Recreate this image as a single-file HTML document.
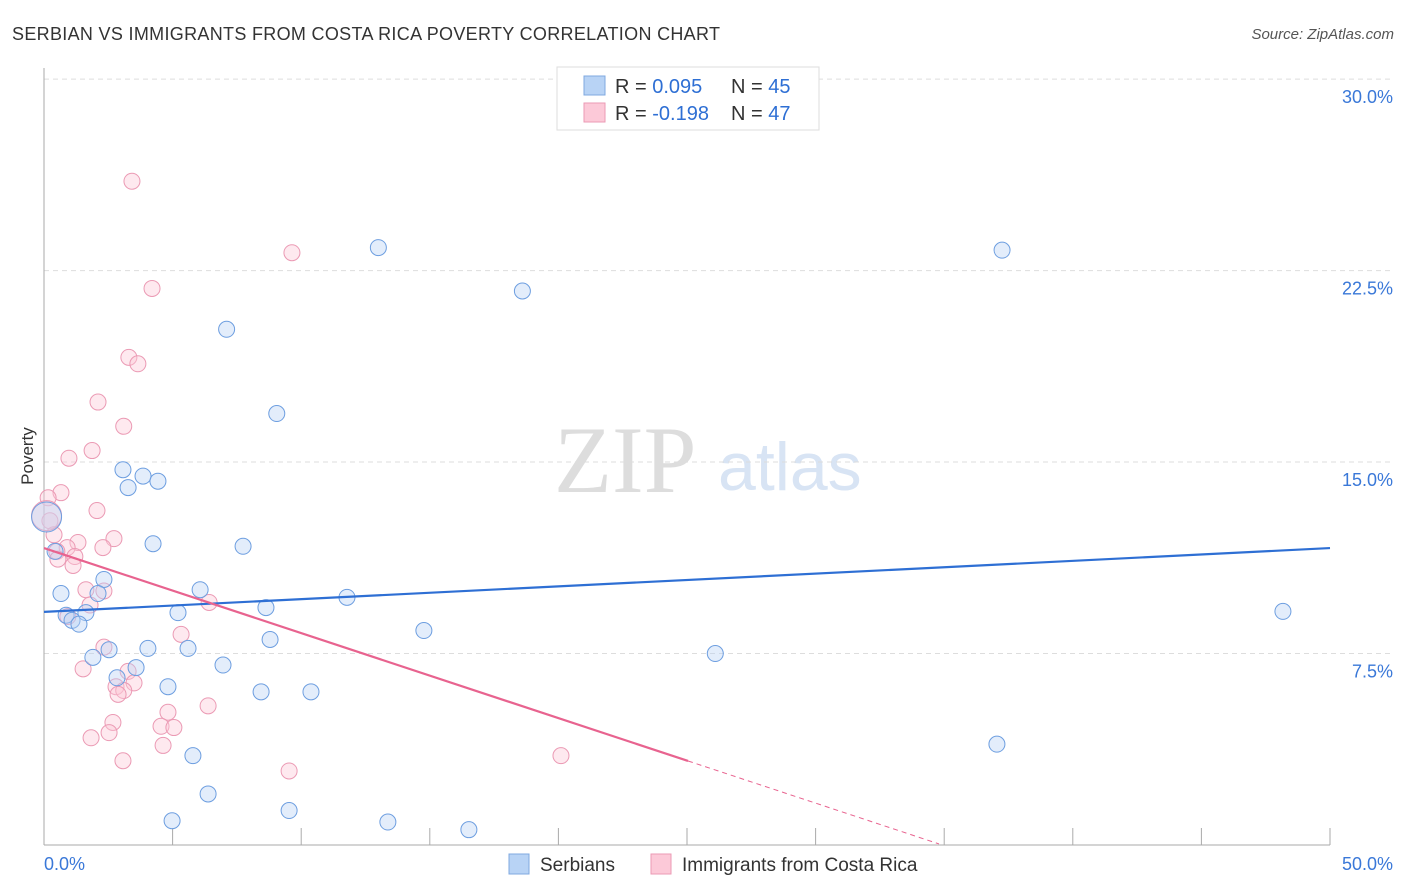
<!DOCTYPE html>
<html><head><meta charset="utf-8"><style>
body{margin:0;background:#fff;font-family:"Liberation Sans",sans-serif;}
svg{display:block}
</style></head><body>
<svg id="c" width="1406" height="892" xmlns="http://www.w3.org/2000/svg">
<text x="12" y="40" font-size="18" fill="#333" textLength="708" lengthAdjust="spacing">SERBIAN VS IMMIGRANTS FROM COSTA RICA POVERTY CORRELATION CHART</text>
<text x="1394" y="39" font-size="15" fill="#555" text-anchor="end" font-style="italic">Source: ZipAtlas.com</text>
<text x="33" y="456" font-size="17" fill="#333" text-anchor="middle" transform="rotate(-90 33 456)">Poverty</text>
<text x="554" y="492" font-size="95" fill="#ddd" font-family="Liberation Serif,serif">ZIP</text>
<text x="718" y="490" font-size="68" fill="#d8e4f4">atlas</text>
<g id="grid"></g><g id="pts"></g><g id="lines"></g>
<g>
<rect x="557" y="67" width="262" height="63" fill="#fff" stroke="#ddd"/>
<rect x="584" y="76" width="21" height="19" fill="#b8d3f5" stroke="#7fa8e0"/>
<rect x="584" y="103" width="21" height="19" fill="#fcc9d8" stroke="#eb9ab4"/>
<text x="615" y="93" font-size="20" fill="#333">R = <tspan fill="#2e6fd4">0.095</tspan></text>
<text x="731" y="93" font-size="20" fill="#333">N = <tspan fill="#2e6fd4">45</tspan></text>
<text x="615" y="120" font-size="20" fill="#333">R = <tspan fill="#2e6fd4">-0.198</tspan></text>
<text x="731" y="120" font-size="20" fill="#333">N = <tspan fill="#2e6fd4">47</tspan></text>
</g>
<g>
<rect x="509" y="854" width="20" height="20" fill="#b8d3f5" stroke="#7fa8e0"/>
<text x="540" y="871" font-size="19" fill="#333">Serbians</text>
<rect x="651" y="854" width="20" height="20" fill="#fcc9d8" stroke="#eb9ab4"/>
<text x="682" y="871" font-size="19" fill="#333">Immigrants from Costa Rica</text>
</g>
<text x="44" y="870" font-size="18" fill="#3a78d8">0.0%</text>
<text x="1393" y="870" font-size="18" fill="#3a78d8" text-anchor="end">50.0%</text>
</svg>
<script>
const yTicks=[7.5,15,22.5,30];
const yTickLabels=["7.5%","15.0%","22.5%","30.0%"];
const xTicks=[0,5,10,15,20,25,30,35,40,45,50];
const blueX=[13.0,37.25,18.6,7.1,9.05,3.07,3.85,3.27,4.43,4.24,7.74,0.43,2.33,0.66,2.1,6.07,11.78,0.86,1.63,5.21,8.63,1.09,1.36,14.77,8.79,2.53,4.04,5.6,1.9,26.1,3.58,6.96,2.84,4.82,8.44,10.38,48.17,5.79,37.05,6.38,9.53,4.98,13.37,16.52,0.1];
const blueY=[23.4,23.3,21.7,20.2,16.9,14.7,14.45,14.0,14.25,11.8,11.7,11.5,10.4,9.85,9.85,10.0,9.7,9.0,9.1,9.1,9.3,8.8,8.65,8.4,8.05,7.65,7.7,7.7,7.35,7.5,6.95,7.05,6.55,6.2,6.0,6.0,9.15,3.5,3.95,2.0,1.35,0.95,0.9,0.6,12.85];
const pinkX=[3.42,9.64,4.2,3.3,3.65,2.1,3.1,1.87,0.97,0.66,0.16,2.06,0.23,0.39,2.72,1.32,0.9,2.29,0.5,1.2,1.13,0.54,1.63,2.33,1.79,6.42,0.93,5.33,2.33,1.52,3.27,3.5,2.8,3.1,2.88,6.38,2.68,4.82,4.55,5.05,2.53,1.83,4.63,3.07,9.53,20.1,0.1];
const pinkY=[26.0,23.2,21.8,19.1,18.85,17.35,16.4,15.45,15.15,13.8,13.6,13.1,12.7,12.15,12.0,11.85,11.65,11.65,11.5,11.3,10.95,11.2,10.0,9.95,9.4,9.5,8.95,8.25,7.75,6.9,6.8,6.35,6.2,6.05,5.9,5.45,4.8,5.2,4.65,4.6,4.4,4.2,3.9,3.3,2.9,3.5,12.9];
const blueLine=[9.13,11.63];
const pinkLine=[11.63,-0.333];
const pinkSolidEnd=25.04, pinkDashEnd=34.8;
const NS="http://www.w3.org/2000/svg";
const X=v=>44+v*25.72, Y=v=>845-v*25.53;
function mk(t,a,p){const e=document.createElementNS(NS,t);for(const k in a)e.setAttribute(k,a[k]);p.appendChild(e);return e;}
const g=document.getElementById('grid');
yTicks.forEach((t,i)=>{
 const l=mk('line',{x1:44,x2:1393,y1:Y(t),y2:Y(t),stroke:'#ddd','stroke-dasharray':'5,4'},g);
 
 
 const tx=mk('text',{x:1393,y:Y(t)+24,'font-size':18,fill:'#3a78d8','text-anchor':'end'},g);
 tx.textContent=yTickLabels[i];
 
 
});
const ax=mk('line',{x1:44,x2:44,y1:68,y2:845,stroke:'#aaa'},g);


const bx=mk('line',{x1:44,x2:1330,y1:845,y2:845,stroke:'#aaa'},g);


xTicks.forEach(t=>{const l=mk('line',{x1:X(t),x2:X(t),y1:828,y2:845,stroke:'#aaa'},g);
 
 });
const p=document.getElementById('pts');
function dots(xs,ys,fill,stroke,name){xs.forEach((x,i)=>{const big=i===xs.length-1;
 const c=mk('circle',{cx:X(x),cy:Y(ys[i]),r:big?15:8,fill:fill,'fill-opacity':0.4,stroke:stroke,'stroke-width':1},p);
 
 });}
dots(pinkX,pinkY,'#fcc9d8','#eb9ab4','costa-rica-point');
dots(blueX,blueY,'#b8d3f5','#6d9ee0','serbian-point');
const L=document.getElementById('lines');
const bl=mk('line',{x1:X(0),y1:Y(blueLine[0]),x2:X(50),y2:Y(blueLine[1]),stroke:'#2e6fd4','stroke-width':2.2},L);


const pf=v=>pinkLine[0]+pinkLine[1]*v;
const pl=mk('line',{x1:X(0),y1:Y(pf(0)),x2:X(pinkSolidEnd),y2:Y(pf(pinkSolidEnd)),stroke:'#e8638f','stroke-width':2.2},L);


const pd=mk('line',{x1:X(pinkSolidEnd),y1:Y(pf(pinkSolidEnd)),x2:X(pinkDashEnd),y2:Y(pf(pinkDashEnd)),stroke:'#e8638f','stroke-width':1,'stroke-dasharray':'5,4'},L);


</script>
</body></html>
